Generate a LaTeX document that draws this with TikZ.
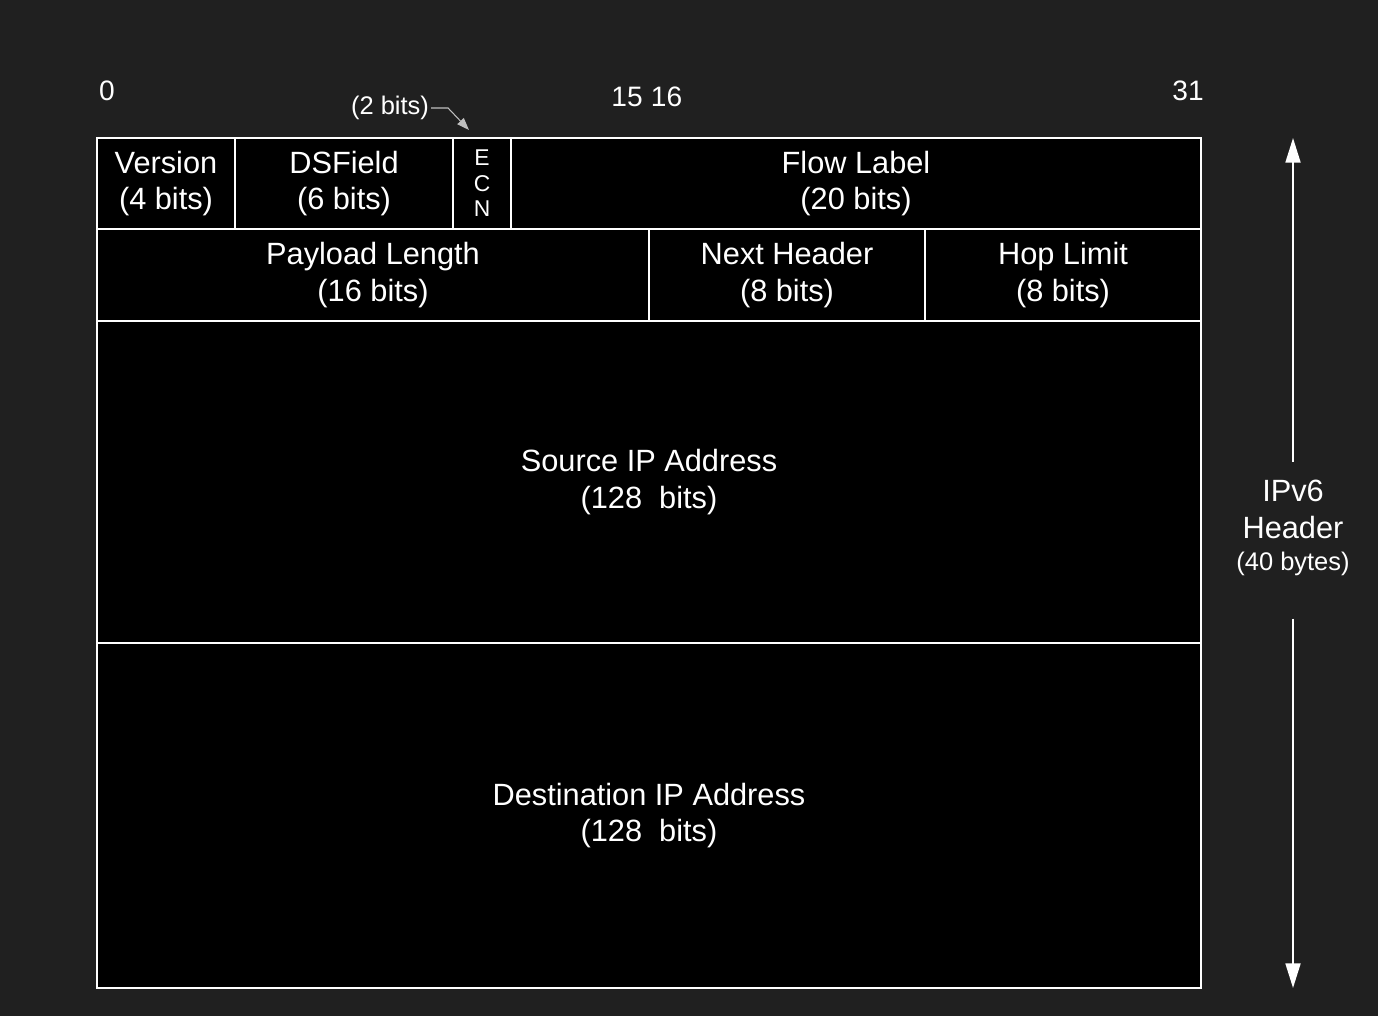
\documentclass[tikz,border=0pt]{standalone}
\usepackage{fontspec}
\setmainfont{Liberation Sans}
\usetikzlibrary{arrows.meta}
\definecolor{bgdark}{HTML}{202020}
\tikzset{
  field/.style 2 args={draw=white, line width=1.1pt, fill=black, text=white,
    align=center, inner sep=0pt, minimum width=#1*0.02cm, minimum height=#2*0.02cm,
    font=\fontsize{17.5}{21}\selectfont},
  bitnum/.style={text=white, font=\fontsize{16}{19}\selectfont},
  note/.style={text=white, font=\fontsize{14.5}{17}\selectfont},
  hdrarrow/.style={draw=white, line width=1.1pt, -{Triangle[length=14pt,width=8.5pt]}},
  ptrarrow/.style={draw=white!75!black, line width=0.6pt, -{Triangle[length=7pt,width=5pt]}}
}
\begin{document}
\begin{tikzpicture}[x=0.02cm, y=-0.02cm]
    \fill[bgdark] (0,0) rectangle (1378,1016);
    \useasboundingbox (0,0) rectangle (1378,1016);
    \node[bitnum] (b0) at (107,91) {0};
    \node[bitnum] (b15) at (627,97) {15};
    \node[bitnum] (b16) at (666.5,97) {16};
    \node[bitnum] (b31) at (1188,91) {31};
    \node[field={138}{91}] (ver) at (166,183.5) {Version\\(4 bits)};
    \node[field={218}{91}] (ds) at (344,183.5) {DSField\\(6 bits)};
    \node[field={58}{91}, font=\fontsize{13}{14.5}\selectfont] (ecn) at (482,183.5) {E\\C\\N};
    \node[field={690}{91}] (flow) at (856,183.5) {Flow Label\\(20 bits)};
    \node[field={552}{92}] (pay) at (373,275) {Payload Length\\(16 bits)};
    \node[field={276}{92}] (next) at (787,275) {Next Header\\(8 bits)};
    \node[field={276}{92}] (hop) at (1063,275) {Hop Limit\\(8 bits)};
    \node[field={1104}{322}] (src) at (649,482) {Source IP Address\\(128\ \ bits)};
    \node[field={1104}{345}] (dst) at (649,815.5) {Destination IP Address\\(128\ \ bits)};
    \node[note, inner sep=1pt] (twobits) at (390,108) {(2 bits)};
    \coordinate (ecntip) at (469,130);
    \draw[ptrarrow] (twobits.east) -- ++(17,0) -- (ecntip);
    \node[text=white, align=center, font=\fontsize{17.5}{21}\selectfont] (hdr) at (1293,528)
        {IPv6\\Header\\[-3pt]{\fontsize{14.5}{17}\selectfont (40 bytes)}};
    \coordinate (hdrtop) at (1293,138);
    \coordinate (hdrbot) at (1293,988);
    \draw[hdrarrow] ([yshift=7pt]hdr.north) -- (hdrtop);
    \draw[hdrarrow] ([yshift=-21pt]hdr.south) -- (hdrbot);
\end{tikzpicture}
\end{document}
